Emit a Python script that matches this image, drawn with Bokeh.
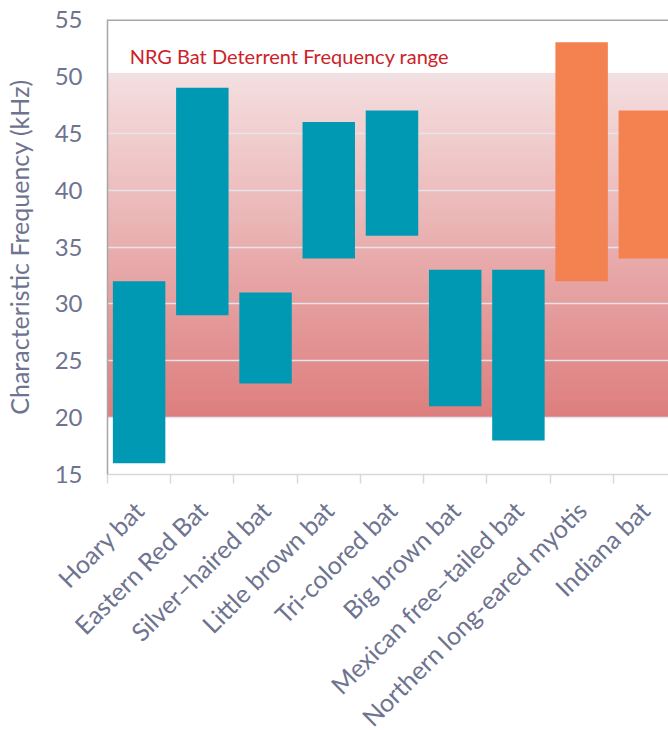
import numpy as np
from bokeh.plotting import figure
from bokeh.models import Range1d, FixedTicker, Label, ColumnDataSource
from bokeh.embed import file_html
from bokeh.resources import INLINE

# ---- data ----
categories = ["Hoary bat", "Eastern Red Bat", "Silver\u2013haired bat", "Little brown bat",
              "Tri-colored bat", "Big brown bat", "Mexican free\u2013tailed bat",
              "Northern long-eared myotis", "Indiana bat"]
freq_low = [16, 29, 23, 34, 36, 21, 18, 32, 34]
freq_high = [32, 49, 31, 46, 47, 33, 33, 53, 47]
status = ["common"] * 7 + ["listed"] * 2
deterrent_low = 20
deterrent_high = 50.3
y_ticks = [15, 20, 25, 30, 35, 40, 45, 50, 55]

FONT = "Lato"
TXT = "#6E7390"
colors = {"common": "#0099B3", "listed": "#F48150"}

x_centers = [i + 0.5 for i in range(len(categories))]
x_edges = list(range(len(categories) + 1))

p = figure(frame_width=562, frame_height=455, output_backend="svg", toolbar_location=None,
           x_range=Range1d(0, 8.89), y_range=Range1d(y_ticks[0], y_ticks[-1]),
           min_border_left=98, min_border_right=0, min_border_top=19,
           min_border_bottom=200)
p.outline_line_color = None
p.xgrid.visible = False
p.ygrid.visible = False
p.background_fill_color = "white"
p.border_fill_color = "white"

# gradient band for the deterrent range (image, no seams)
n = 200
c_bot = np.array([222, 126, 126])
c_top = np.array([245, 224, 225])
img = np.zeros((n, 1), dtype=np.uint32)
view = img.view(dtype=np.uint8).reshape((n, 1, 4))
for k in range(n):
    t = (k + 0.5) / n
    c = (c_bot * (1 - t) + c_top * t).astype(np.uint8)
    view[k, 0, 0:3] = c
    view[k, 0, 3] = 255
p.image_rgba(image=[img], x=0, y=deterrent_low, dw=10, dh=deterrent_high - deterrent_low)

# gridlines
p.hspan(y=y_ticks[1:-1], line_color="#E6E3EC", line_width=1.5)
# top border
p.hspan(y=[y_ticks[-1]], line_color="#A8A8A8", line_width=3)

src = ColumnDataSource(dict(x=x_centers, bottom=freq_low, top=freq_high,
                            color=[colors[s] for s in status]))
p.vbar(x="x", bottom="bottom", top="top", width=0.83, fill_color="color",
       line_color=None, source=src)

p.add_layout(Label(x=0.35, y=50.75, text="NRG Bat Deterrent Frequency range",
                   text_color="#CC2229", text_font=FONT, text_font_size="20px"))

# y axis
yax = p.yaxis[0]
yax.ticker = FixedTicker(ticks=y_ticks)
yax.axis_label = "Characteristic Frequency (kHz)"
yax.axis_label_text_font = FONT
yax.axis_label_text_font_size = "25px"
yax.axis_label_text_font_style = "normal"
yax.axis_label_text_color = TXT
yax.axis_label_standoff = 18
yax.major_label_text_font = FONT
yax.major_label_text_font_size = "24px"
yax.major_label_text_color = TXT
yax.major_label_standoff = 25
yax.major_tick_out = 0
yax.major_tick_in = 0
yax.minor_tick_out = 0
yax.minor_tick_in = 0
yax.axis_line_color = "#A6A6A6"
yax.axis_line_width = 1.5

# x axis
xax = p.xaxis[0]
xax.ticker = FixedTicker(ticks=x_centers, minor_ticks=x_edges)
xax.major_label_overrides = {x: c for x, c in zip(x_centers, categories)}
xax.major_label_orientation = np.pi / 4
xax.major_label_text_font = FONT
xax.major_label_text_font_size = "25px"
xax.major_label_text_color = TXT
xax.major_label_standoff = 22
xax.major_tick_out = 0
xax.major_tick_in = 0
xax.minor_tick_out = 9
xax.minor_tick_in = 0
xax.minor_tick_line_color = "#D9D9D9"
xax.minor_tick_line_width = 1.5
xax.axis_line_color = "#D9D9D9"
xax.axis_line_width = 1.5

open("out.html", "w").write(file_html(p, INLINE))
